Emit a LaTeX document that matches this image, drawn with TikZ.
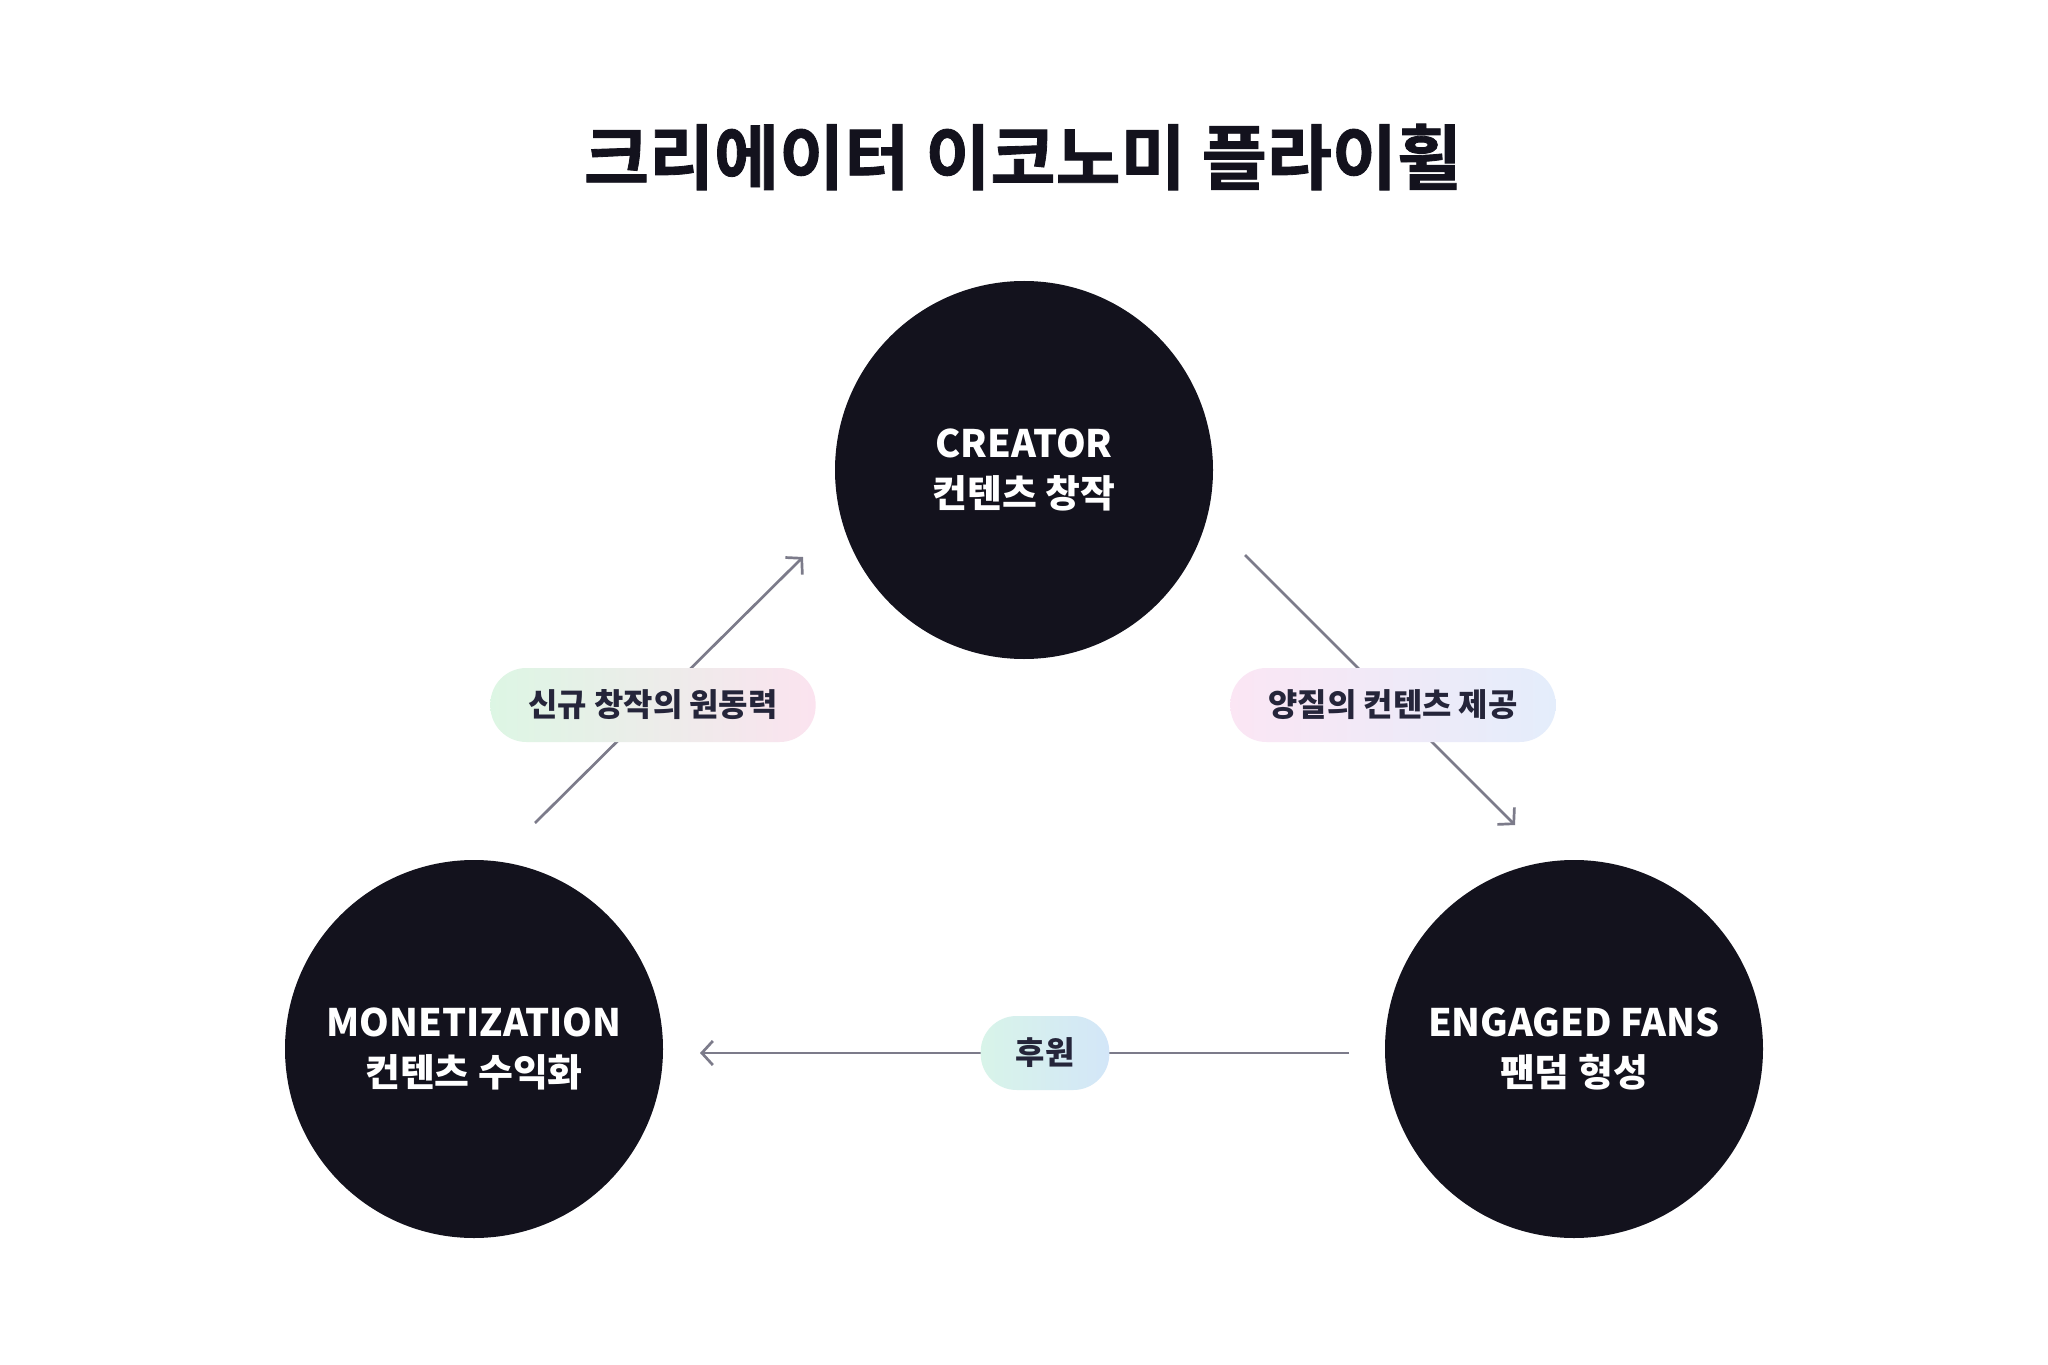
\documentclass[tikz,border=0pt]{standalone}
\usepackage{fontspec}
\setmainfont{Noto Sans CJK KR}
\newfontfamily\krfont{Noto Sans CJK KR}
\newfontfamily\krheavy[FakeBold=1.2]{Noto Sans CJK KR Bold}
\usetikzlibrary{arrows.meta}
\definecolor{circfill}{HTML}{13121D}
\definecolor{arrgray}{HTML}{7C7B8A}
\definecolor{pilltext}{HTML}{25253A}
\definecolor{gA}{HTML}{DDF6E4}
\definecolor{pA}{HTML}{FBE3EF}
\definecolor{pB}{HTML}{FBE6F4}
\definecolor{bB}{HTML}{E4EDFB}
\definecolor{mC}{HTML}{D8F4E9}
\definecolor{bC}{HTML}{D3E6F8}
\tikzset{
  hub/.style={circle, fill=circfill, minimum size=378bp, inner sep=0pt, text=white, align=center,
    font=\krfont\bfseries\fontsize{38}{50}\selectfont},
  pill/.style={rounded corners=36bp, minimum height=74bp, inner xsep=38bp, text=pilltext,
    font=\krfont\bfseries\fontsize{32}{36}\selectfont},
  arr/.style={draw=arrgray, line width=2.7bp, -{Straight Barb[length=11bp,width=24bp]}},
}
\begin{document}
\begin{tikzpicture}[x=1bp,y=-1bp]
\path[use as bounding box, fill=white] (0,0) rectangle (2048,1365);
\node[font=\krheavy\fontsize{71}{76}\selectfont, text=circfill] (title) at (1023,157) {크리에이터 이코노미 플라이휠};

\node[hub] (creator) at (1024,470) {CREATOR\\컨텐츠 창작};
\node[hub] (money) at (474,1049) {MONETIZATION\\컨텐츠 수익화};
\node[hub] (fans) at (1574,1049) {ENGAGED FANS\\팬덤 형성};

\coordinate (l1) at (535,823);
\coordinate (l2) at (803,557);
\coordinate (r1) at (1245,555);
\coordinate (r2) at (1515,825);
\coordinate (b1) at (1349,1053);
\coordinate (b2) at (700,1053);

\draw[arr] (l1) -- (l2);
\draw[arr] (r1) -- (r2);
\draw[arr] (b1) -- (b2);

\node[pill, left color=gA, right color=pA] (lab1) at (653,705) {신규 창작의 원동력};
\node[pill, left color=pB, right color=bB] (lab2) at (1393,705) {양질의 컨텐츠 제공};
\node[pill, left color=mC, right color=bC, inner xsep=35bp] (lab3) at (1045,1053) {후원};
\end{tikzpicture}
\end{document}
